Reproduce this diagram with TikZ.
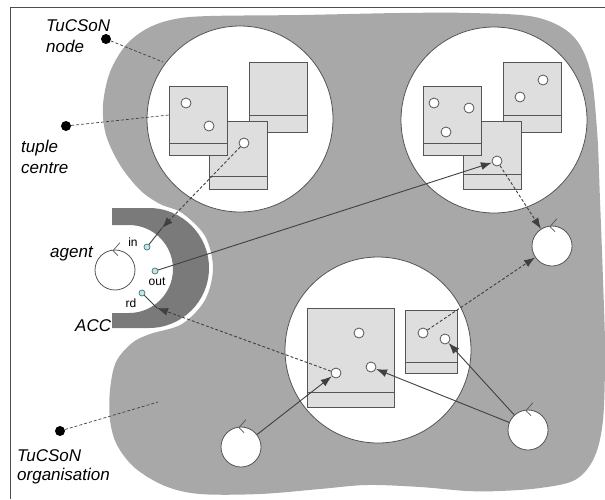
\documentclass[tikz,border=0pt]{standalone}
\usepackage{fontspec}
\setmainfont{Liberation Sans}
\usetikzlibrary{arrows.meta}
\definecolor{blobgrey}{RGB}{168,168,168}
\definecolor{accgrey}{RGB}{122,122,122}
\definecolor{boxgrey}{RGB}{222,222,222}
\definecolor{edgegrey}{RGB}{85,85,85}
\definecolor{portfill}{RGB}{200,228,228}
\definecolor{portedge}{RGB}{60,120,120}
\tikzset{
  blob/.style={fill=blobgrey},
  acc/.style={fill=accgrey},
  tc/.style={circle, draw=edgegrey, fill=white, line width=0.8pt, minimum size=186pt, inner sep=0pt},
  tbox/.style={draw=edgegrey, fill=boxgrey, line width=0.8pt, inner sep=0pt, outer sep=0pt},
  tedge/.style={draw=edgegrey, line width=0.8pt},
  tuplec/.style={circle, draw=edgegrey, fill=white, line width=0.8pt, minimum size=10pt, inner sep=0pt},
  agentc/.style={circle, draw=edgegrey, fill=white, line width=0.8pt, minimum size=40pt, inner sep=0pt},
  tick/.style={draw=edgegrey, line width=0.7pt},
  port/.style={circle, draw=portedge, fill=portfill, line width=0.7pt, minimum size=6pt, inner sep=0pt},
  ldot/.style={circle, fill=black, minimum size=10pt, inner sep=0pt},
  lbl/.style={font=\fontsize{17}{20}\selectfont\itshape, inner sep=0pt, anchor=base west},
  plbl/.style={font=\fontsize{12}{14}\selectfont, inner sep=0pt},
  tag/.style={densely dashed, draw=black!75, line width=0.7pt},
  flow/.style={draw=black!75, line width=0.9pt, -{Latex[length=11pt,width=8pt]}},
  dflow/.style={flow, densely dashed},
  plainline/.style={draw=black!75, line width=0.9pt},
  frameline/.style={draw=black!70, line width=1pt}
}
\begin{document}
\begin{tikzpicture}[x=1pt,y=-1pt]
\useasboundingbox (0,0) rectangle (605,499);
% frame
\draw[frameline] (605,7) -- (10,7) -- (10,499);
% organisation blob
\fill[blob] plot[smooth cycle, tension=0.55] coordinates {
 (210,16) (300,15) (400,13) (470,13) (535,17) (572,35) (590,70) (597,130)
 (600,200) (603,280) (605,350) (603,420) (594,458) (575,480) (540,488)
 (500,491) (467,491) (420,487) (367,485) (320,489) (260,494) (200,494)
 (165,486) (135,468) (117,445) (110,420) (110,390) (116,362) (132,343)
 (150,334) (182,324) (205,300) (213,268) (205,236) (182,213) (160,204)
 (140,190) (120,165) (106,135) (103,105) (110,72) (126,45) (148,28) (175,19)};
% ACC
\fill[acc] (112,208) -- (149,208) arc[start angle=-90, end angle=90, radius=60]
  -- (112,328) -- (112,313) -- (129,313) arc[start angle=90, end angle=-90, radius=44]
  -- (112,225) -- cycle;
% tuple centre nodes (big circles)
\node[tc] (c1) at (240,119) {};
\node[tc] (c2) at (494,120) {};
\node[tc] (c3) at (378,350) {};
% boxes circle 1
\node[tbox, minimum width=58pt, minimum height=70pt] (bB) at (278,97) {};
\draw[tedge] (bB.south west) ++(0,-17) -- ++(58,0);
\node[tbox, minimum width=58pt, minimum height=68pt] (bC) at (238,155) {};
\draw[tedge] (bC.south west) ++(0,-13) -- ++(58,0);
\node[tbox, minimum width=58pt, minimum height=69pt] (bA) at (198,120.5) {};
\draw[tedge] (bA.south west) ++(0,-12) -- ++(58,0);
% boxes circle 2
\node[tbox, minimum width=58pt, minimum height=70pt] (bE) at (532,97) {};
\draw[tedge] (bE.south west) ++(0,-17) -- ++(58,0);
\node[tbox, minimum width=58pt, minimum height=68pt] (bF) at (492,155) {};
\draw[tedge] (bF.south west) ++(0,-15) -- ++(58,0);
\node[tbox, minimum width=58pt, minimum height=69pt] (bD) at (452,120.5) {};
\draw[tedge] (bD.south west) ++(0,-12) -- ++(58,0);
% boxes circle 3
\node[tbox, minimum width=87pt, minimum height=99pt] (bG) at (350.5,357.5) {};
\draw[tedge] (bG.south west) ++(0,-15) -- ++(87,0);
\node[tbox, minimum width=52pt, minimum height=63pt] (bH) at (431,341.5) {};
\draw[tedge] (bH.south west) ++(0,-11) -- ++(52,0);
% tuples
\node[tuplec] (tA1) at (186,103) {};
\node[tuplec] (tA2) at (209,126) {};
\node[tuplec] (cC) at (244,143) {};
\node[tuplec] (tD1) at (434,103) {};
\node[tuplec] (tD2) at (469,108) {};
\node[tuplec] (tD3) at (446,132) {};
\node[tuplec] (tE1) at (543,80) {};
\node[tuplec] (tE2) at (520,97) {};
\node[tuplec] (cF) at (497,161) {};
\node[tuplec] (cG1) at (359,333) {};
\node[tuplec] (cG2) at (336,373) {};
\node[tuplec] (cG3) at (371,367) {};
\node[tuplec] (cH1) at (423,333) {};
\node[tuplec] (cH2) at (445,339) {};
% agents
\node[agentc] (a1) at (115,270) {};
\node[agentc] (a2) at (552,246) {};
\node[agentc] (a3) at (241,447) {};
\node[agentc] (a4) at (528,430) {};
\foreach \a in {a1,a2,a3,a4}{
  \draw[tick] (\a.north) ++(5,-7) -- ++(-7,8) -- ++(5,5);
}
% ports
\node[port] (pin) at (147,247) {};
\node[port] (pout) at (155,271) {};
\node[port] (prd) at (142,293) {};
\node[plbl] (lin) at (133,242) {in};
\node[plbl] (lout) at (157,282) {out};
\node[plbl] (lrd) at (131,303) {rd};
% interaction arrows
\coordinate (tipIn) at (162,228);
\coordinate (tipRd) at (157,308);
\draw[dflow] (cC) -- (tipIn);
\draw[plainline] (tipIn) -- (pin);
\draw[flow] (pout) -- (cF);
\draw[dflow] (cF) -- (a2);
\draw[dflow] (cG2) -- (tipRd);
\draw[plainline] (tipRd) -- (prd);
\draw[flow] (a3) -- (cG2);
\draw[flow] (a4) -- (cG3);
\draw[flow] (a4) -- (cH2);
\draw[dflow] (cH1) -- (a2);
% labels
\node[ldot] (dNode) at (106,39) {};
\coordinate (eNode) at (163,62);
\draw[tag] (dNode) -- (eNode);
\node[lbl] (tNode1) at (46,31) {TuCSoN};
\node[lbl] (tNode2) at (46,52) {node};
\node[ldot] (dTc) at (66,126) {};
\coordinate (eTc) at (169,115);
\draw[tag] (dTc) -- (eTc);
\node[lbl] (tTc1) at (21,152) {tuple};
\node[lbl] (tTc2) at (21,173) {centre};
\node[lbl] (tAgent) at (50,257) {agent};
\node[lbl] (tAcc) at (75,331) {ACC};
\node[ldot] (dOrg) at (60,431) {};
\coordinate (eOrg) at (158,402);
\draw[tag] (dOrg) -- (eOrg);
\node[lbl] (tOrg1) at (17,461) {TuCSoN};
\node[lbl] (tOrg2) at (17,480) {organisation};
\end{tikzpicture}
\end{document}
